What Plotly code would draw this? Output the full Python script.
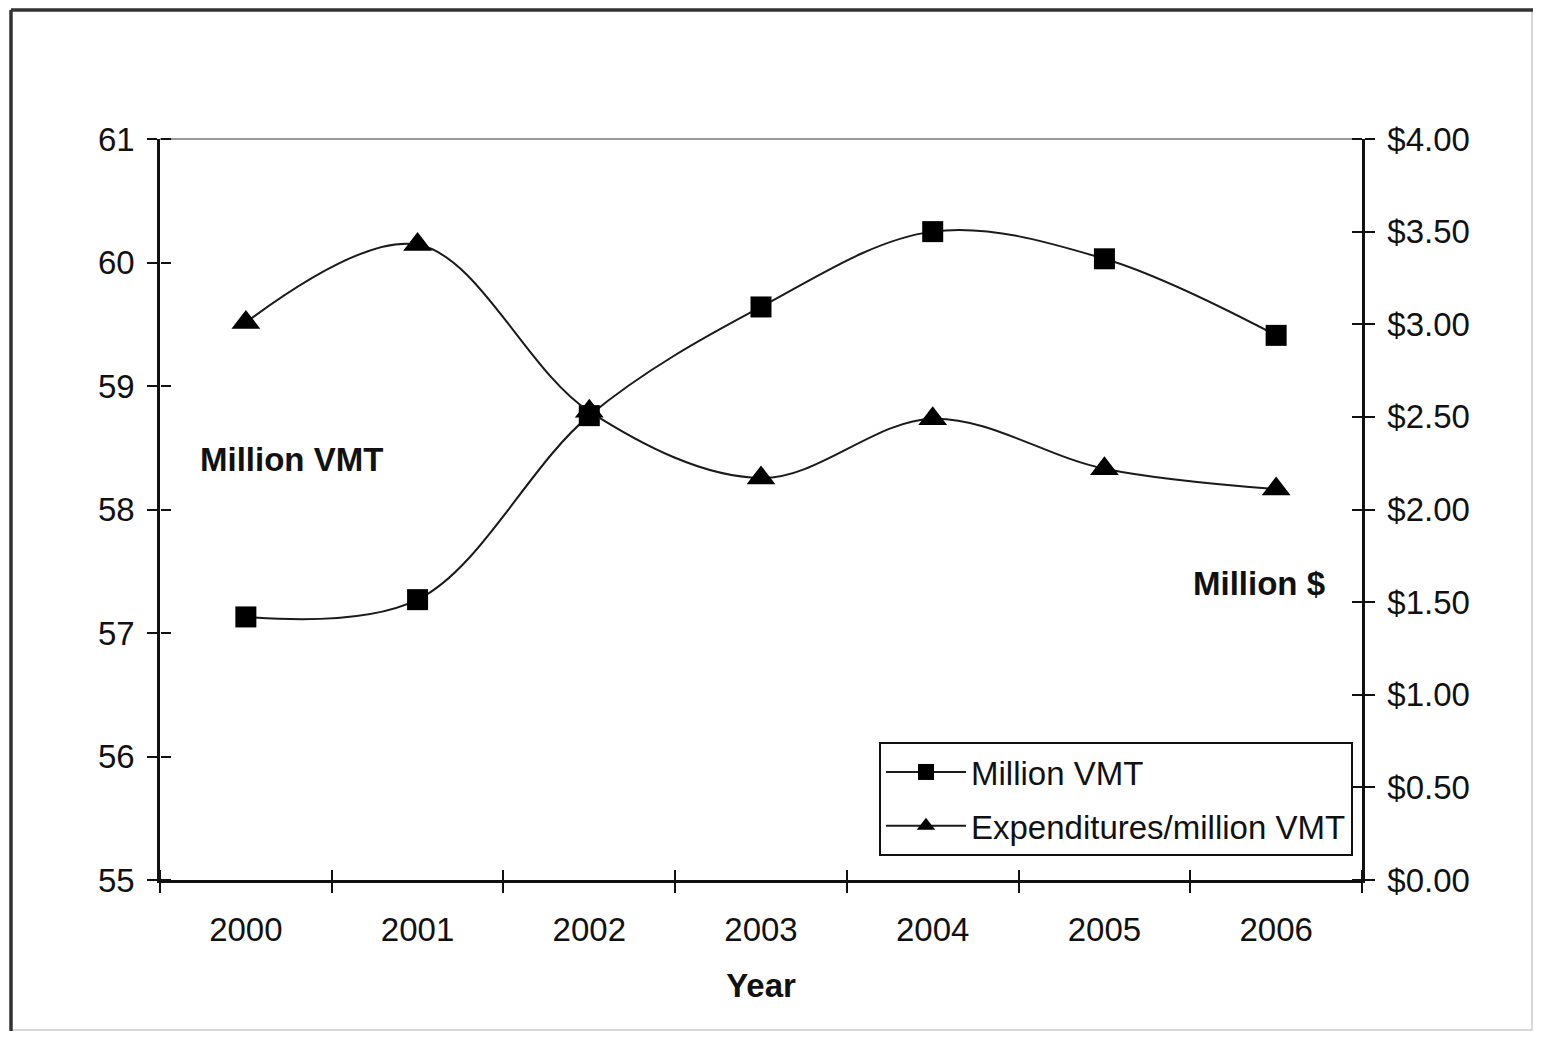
import plotly.graph_objects as go

years = ["2000", "2001", "2002", "2003", "2004", "2005", "2006"]
million_vmt = [57.13, 57.27, 58.76, 59.64, 60.25, 60.03, 59.41]
expenditures = [3.01, 3.43, 2.53, 2.17, 2.49, 2.22, 2.11]

left_ticks = [55, 56, 57, 58, 59, 60, 61]
right_ticks = [0, 0.5, 1, 1.5, 2, 2.5, 3, 3.5, 4]
right_labels = ["$%.2f" % v for v in right_ticks]

xpos = list(range(len(years)))
bounds = [i - 0.5 for i in range(len(years) + 1)]

FONT = "Liberation Sans, Arial, sans-serif"
FS = 33
FSB = 33

fig = go.Figure()
fig.add_trace(go.Scatter(
    x=xpos, y=million_vmt, name="Million VMT", mode="lines+markers",
    line=dict(color="#1a1a1a", width=2, shape="spline", smoothing=1.0),
    marker=dict(symbol="square", size=21, color="black"),
    legendgroup="a", yaxis="y"))
fig.add_trace(go.Scatter(
    x=xpos, y=expenditures, name="Expenditures/million VMT", mode="lines+markers",
    line=dict(color="#1a1a1a", width=2, shape="spline", smoothing=1.0),
    marker=dict(symbol="triangle-up", size=25, color="black"),
    legendgroup="b", yaxis="y2"))

# figure is placed at page offset (8, 8) by the body margin
W, H = 1525, 1023
L, R, T, B = 152, 171, 131, 151

# page-pixel -> paper helpers (plot area spans page x 160..1362, y 139..880)
def px_x(p):
    return (p - 160) / 1202

def px_y(p):
    return (880 - p) / 741

TC = "#111111"
fig.update_layout(
    width=W, height=H,
    margin=dict(l=L, r=R, t=T, b=B),
    paper_bgcolor="white", plot_bgcolor="white",
    font=dict(family=FONT, size=FS, color=TC),
    showlegend=True,
    legend=dict(
        x=px_x(879), y=px_y(742), xanchor="left", yanchor="top",
        bordercolor=TC, borderwidth=2, bgcolor="white",
        font=dict(size=FS, family=FONT, color=TC),
        itemwidth=80, tracegroupgap=8,
    ),
    xaxis=dict(
        range=[-0.5, len(years) - 0.5], tickvals=xpos, ticktext=years,
        ticks="", showgrid=False, zeroline=False,
        showline=True, linecolor=TC, linewidth=2.5,
        minor=dict(tickvals=bounds, ticks="outside", ticklen=10, tickwidth=2, tickcolor=TC),
        ticklabelstandoff=19,
        title=dict(text="<b>Year</b>", font=dict(size=FSB, family=FONT), standoff=27),
        anchor="y",
    ),
    # helper axes drawing the inner half of the crossing tick marks
    xaxis2=dict(
        range=[-0.5, len(years) - 0.5], overlaying="x", anchor="free", position=0,
        side="top", tickvals=bounds, ticks="outside", ticklen=10, tickwidth=2, tickcolor=TC,
        showticklabels=False, showgrid=False, zeroline=False, showline=False,
    ),
    yaxis=dict(
        range=[55, 61], tickvals=left_ticks, ticks="outside", ticklen=10, tickwidth=2,
        tickcolor=TC, showgrid=False, zeroline=False,
        showline=True, linecolor=TC, linewidth=2.5, ticklabelstandoff=6,
    ),
    yaxis2=dict(
        range=[0, 4], tickvals=right_ticks, ticktext=right_labels, overlaying="y", side="right",
        ticks="outside", ticklen=10, tickwidth=2, tickcolor=TC, showgrid=False,
        zeroline=False, showline=True, linecolor=TC, linewidth=2.5, anchor="x",
        ticklabelstandoff=6,
    ),
    yaxis3=dict(
        range=[55, 61], tickvals=left_ticks, overlaying="y", side="right",
        anchor="free", position=0,
        ticks="outside", ticklen=10, tickwidth=2, tickcolor=TC,
        showticklabels=False, showgrid=False, zeroline=False, showline=False,
    ),
    yaxis4=dict(
        range=[0, 4], tickvals=right_ticks, overlaying="y", side="left",
        anchor="free", position=1,
        ticks="outside", ticklen=10, tickwidth=2, tickcolor=TC,
        showticklabels=False, showgrid=False, zeroline=False, showline=False,
    ),
)

# invisible helper traces so helper axes are rendered
fig.add_trace(go.Scatter(x=[0], y=[58], xaxis="x2", yaxis="y3", mode="markers",
                         marker=dict(opacity=0), showlegend=False, hoverinfo="skip"))
fig.add_trace(go.Scatter(x=[0], y=[2], xaxis="x2", yaxis="y4", mode="markers",
                         marker=dict(opacity=0), showlegend=False, hoverinfo="skip"))

# top border of plot area (gray)
fig.add_shape(type="line", xref="paper", yref="paper", x0=0, x1=1, y0=1, y1=1,
              line=dict(color="#777777", width=1.5), layer="below")
# outer frame: faint right/bottom, dark top/left
fig.add_shape(type="rect", xref="paper", yref="paper",
              x0=px_x(11), x1=px_x(1532), y0=px_y(1030), y1=px_y(10),
              line=dict(color="#cccccc", width=1.5), layer="below")
fig.add_shape(type="line", xref="paper", yref="paper",
              x0=px_x(11), x1=px_x(1533), y0=px_y(10), y1=px_y(10),
              line=dict(color="#333333", width=3.5), layer="below")
fig.add_shape(type="line", xref="paper", yref="paper",
              x0=px_x(11), x1=px_x(11), y0=px_y(1031), y1=px_y(10),
              line=dict(color="#333333", width=3.5), layer="below")

fig.add_annotation(text="<b>Million VMT</b>", xref="paper", yref="paper",
                   x=px_x(291), y=px_y(459), xanchor="center", yanchor="middle",
                   showarrow=False, font=dict(size=FSB, family=FONT, color=TC))
fig.add_annotation(text="<b>Million $</b>", xref="paper", yref="paper",
                   x=px_x(1259), y=px_y(583), xanchor="center", yanchor="middle",
                   showarrow=False, font=dict(size=FSB, family=FONT, color=TC))

fig.write_html("out.html")
